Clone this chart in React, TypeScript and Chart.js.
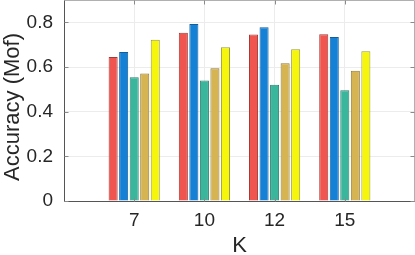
import React, { useEffect, useRef } from "react";
import { Chart, registerables } from "chart.js";
Chart.register(...registerables);

const categories = ["", "7", "10", "12", "15", ""];
const seriesA = [null, 0.645, 0.753, 0.746, 0.747, null];
const seriesB = [null, 0.667, 0.793, 0.778, 0.734, null];
const seriesC = [null, 0.554, 0.540, 0.521, 0.496, null];
const seriesD = [null, 0.571, 0.594, 0.617, 0.583, null];
const seriesE = [null, 0.722, 0.688, 0.680, 0.671, null];
const yTicks = [0, 0.2, 0.4, 0.6, 0.8];
const xTitle = "K";
const yTitle = "Accuracy (Mof)";

const colors = ["#f0554f", "#1581d6", "#39b69b", "#d6b451", "#f6f60c"];
const borders = ["#a23a36", "#135d99", "#2a7f6d", "#8f7a3a", "#9b9b3a"];
const FONT = "Liberation Sans";

const boxPlugin = {
  id: "box",
  afterDraw(chart: any) {
    const { ctx, chartArea: a, scales } = chart;
    ctx.save();
    ctx.lineWidth = 1;
    const L = Math.round(a.left) + 0.5, R = Math.round(a.right) - 0.5;
    const T = Math.round(a.top) + 0.5, B = Math.round(a.bottom) + 0.5;
    ctx.strokeStyle = "#b0b0b0";
    ctx.beginPath();
    ctx.moveTo(L, T); ctx.lineTo(R, T); ctx.lineTo(R, B);
    ctx.stroke();
    ctx.strokeStyle = "#555555";
    ctx.beginPath();
    ctx.moveTo(L, T); ctx.lineTo(L, B); ctx.lineTo(R, B);
    ctx.stroke();
    ctx.strokeStyle = "#8a8a8a";
    ctx.beginPath();
    for (let i = 1; i < categories.length - 1; i++) {
      const x = Math.round(scales.x.getPixelForValue(i)) + 0.5;
      ctx.moveTo(x, B); ctx.lineTo(x, B - 4);
      ctx.moveTo(x, T); ctx.lineTo(x, T + 4);
    }
    for (const v of yTicks) {
      const y = Math.round(scales.y.getPixelForValue(v)) + 0.5;
      ctx.moveTo(L, y); ctx.lineTo(L + 4, y);
      ctx.moveTo(R, y); ctx.lineTo(R - 4, y);
    }
    ctx.stroke();
    // y axis title
    ctx.fillStyle = "#262626";
    ctx.font = `22px "${FONT}"`;
    ctx.textAlign = "center";
    ctx.textBaseline = "middle";
    ctx.translate(12.5, 107);
    ctx.rotate(-Math.PI / 2);
    ctx.fillText(yTitle, 0, 0);
    ctx.restore();
  },
};

function zeroPad(s: any) {
  s.paddingTop = 0;
  s.paddingBottom = 0;
  s.paddingLeft = 0;
  s.paddingRight = 0;
}

export default function App() {
  const ref = useRef<HTMLCanvasElement>(null);
  useEffect(() => {
    document.body.style.margin = "0";
    const all = [seriesA, seriesB, seriesC, seriesD, seriesE];
    const chart = new Chart(ref.current!, {
      type: "bar",
      data: {
        labels: categories,
        datasets: all.map((d, i) => ({
          label: "S" + i,
          data: d as any,
          backgroundColor: colors[i],
          borderColor: borders[i],
          borderWidth: 1,
          categoryPercentage: 0.75,
          barPercentage: 0.86,
        })),
      },
      options: {
        animation: false,
        responsive: false,
        devicePixelRatio: 1,
        layout: { padding: { top: 0, right: 0, left: 0, bottom: 0 } },
        plugins: { legend: { display: false }, tooltip: { enabled: false } },
        scales: {
          x: {
            type: "category",
            offset: false,
            grid: { offset: false, color: "#ececec", drawTicks: false },
            border: { display: false },
            ticks: {
              color: "#262626",
              font: { family: FONT, size: 19 },
              padding: 8,
              maxRotation: 0,
              autoSkip: false,
            },
            title: {
              display: true,
              text: xTitle,
              color: "#262626",
              font: { family: FONT, size: 22, lineHeight: 1 },
              padding: { top: 0, bottom: -2 },
            },
            afterFit(s: any) { s.height = 54; zeroPad(s); },
          },
          y: {
            min: 0,
            max: 0.9,
            afterBuildTicks(s: any) { s.ticks = yTicks.map((v) => ({ value: v })); },
            grid: { color: "#ececec", drawTicks: false },
            border: { display: false },
            ticks: {
              color: "#262626",
              font: { family: FONT, size: 19 },
              padding: 11,
              callback: (v: any) => (v === 0 ? "0" : Number(v).toFixed(1)),
            },
            afterFit(s: any) { s.width = 64; zeroPad(s); },
          },
        },
      },
      plugins: [boxPlugin],
    });
    return () => chart.destroy();
  }, []);
  return <canvas ref={ref} width={415} height={255} style={{ display: "block" }} />;
}
